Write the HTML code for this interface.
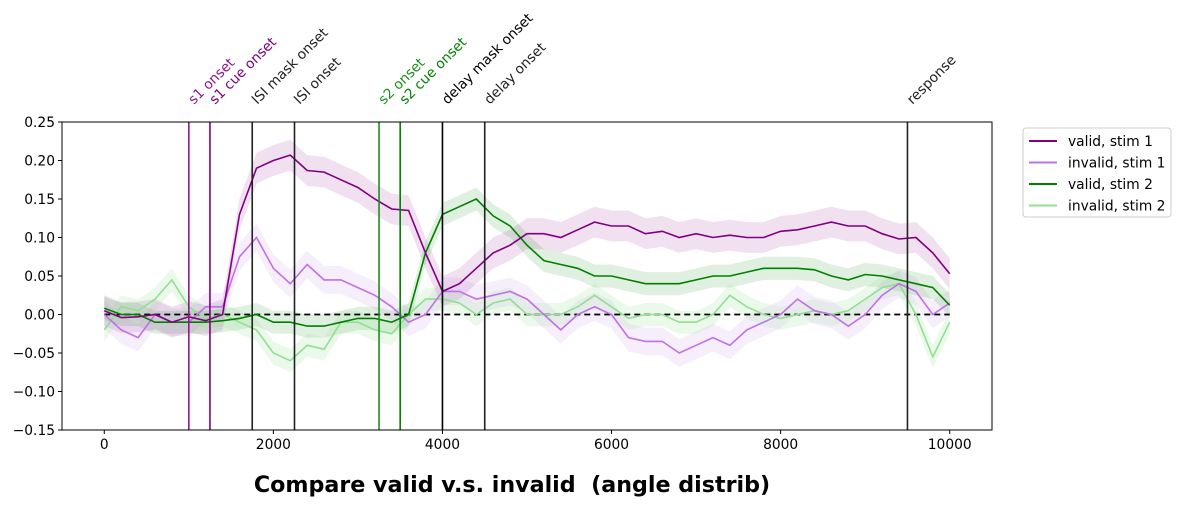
<!DOCTYPE html>
<html><head><meta charset="utf-8"><style>
html,body{margin:0;padding:0;background:#fff;}
svg{display:block;font-family:"DejaVu Sans","Liberation Sans",sans-serif;}
</style></head><body>
<svg id="chart" width="1181" height="507" viewBox="0 0 1181 507" xmlns="http://www.w3.org/2000/svg"></svg>
<script>
const xs = [0,200,400,600,800,1000,1200,1400,1600,1800,2000,2200,2400,2600,2800,3000,3200,3400,3600,3800,4000,4200,4400,4600,4800,5000,5200,5400,5600,5800,6000,6200,6400,6600,6800,7000,7200,7400,7600,7800,8000,8200,8400,8600,8800,9000,9200,9400,9600,9800,10000];
const validStim1 = [0.005,-0.004,-0.003,0.0,-0.01,-0.003,-0.008,0.0,0.13,0.19,0.2,0.207,0.187,0.185,0.175,0.165,0.15,0.137,0.135,0.08,0.03,0.04,0.06,0.08,0.09,0.105,0.105,0.1,0.11,0.12,0.115,0.115,0.105,0.108,0.1,0.105,0.1,0.103,0.1,0.1,0.108,0.11,0.115,0.12,0.115,0.115,0.105,0.098,0.1,0.08,0.053];
const invalidStim1 = [0,-0.02,-0.03,0.0,-0.01,-0.01,0.01,0.01,0.075,0.1,0.06,0.04,0.065,0.045,0.045,0.035,0.025,0.01,-0.01,0.0,0.03,0.03,0.02,0.025,0.03,0.02,0.0,-0.02,0.0,0.01,0.0,-0.03,-0.035,-0.035,-0.05,-0.04,-0.03,-0.04,-0.02,-0.01,0.0,0.02,0.005,0.0,-0.015,0.0,0.025,0.04,0.03,0.0,0.015];
const validStim2 = [0.008,0.0,0.0,-0.01,-0.01,-0.01,-0.01,-0.008,-0.005,0.0,-0.01,-0.01,-0.015,-0.015,-0.01,-0.005,-0.005,-0.01,0.0,0.08,0.13,0.14,0.15,0.128,0.115,0.09,0.07,0.065,0.06,0.05,0.05,0.045,0.04,0.04,0.04,0.045,0.05,0.05,0.055,0.06,0.06,0.06,0.058,0.05,0.045,0.052,0.05,0.045,0.04,0.035,0.012];
const invalidStim2 = [-0.02,0.01,0.005,0.02,0.045,0.01,-0.005,0.0,-0.01,-0.02,-0.05,-0.06,-0.04,-0.045,-0.01,-0.01,-0.02,-0.025,0.0,0.02,0.02,0.015,0.0,0.015,0.02,0.0,0.0,0.0,0.01,0.025,0.01,-0.005,0.0,0.0,-0.01,-0.01,0.0,0.025,0.01,0.0,-0.005,0.0,0.005,0.0,0.005,0.02,0.035,0.04,0.0,-0.055,-0.01];
const semValues = [0.02,0.018,0.015,0.015];
const seriesNames = ["valid, stim 1","invalid, stim 1","valid, stim 2","invalid, stim 2"];
const seriesColors = ["#800080","#c070e8","#008000","#90e090"];
const eventTimes = [1000,1250,1750,2250,3250,3500,4000,4500,9500];
const eventLabels = ["s1 onset","s1 cue onset","ISI mask onset","ISI onset","s2 onset","s2 cue onset","delay mask onset","delay onset","response"];
const eventColors = ["#901890","#800080","#222","#222","#1a901a","#008000","#000","#222","#222"];
const xTicks = [0,2000,4000,6000,8000,10000];
const yTicks = [0.25,0.20,0.15,0.10,0.05,0.00,-0.05,-0.10,-0.15];

const L=62,R=992,T=122,B=430;
const xMin=-500,xMax=10500,yMin=-0.15,yMax=0.25;
const X=v=>L+(v-xMin)/(xMax-xMin)*(R-L);
const Y=v=>B-(v-yMin)/(yMax-yMin)*(B-T);
const svg=document.getElementById('chart');
const NS="http://www.w3.org/2000/svg";
function mk(tag,attrs,parent){const e=document.createElementNS(NS,tag);for(const k in attrs)e.setAttribute(k,attrs[k]);(parent||svg).appendChild(e);return e;}

const clip=mk('clipPath',{id:'pc'});mk('rect',{x:L,y:T,width:R-L,height:B-T},clip);
const plot=mk('g',{'clip-path':'url(#pc)'});



const allSeries=[validStim1,invalidStim1,validStim2,invalidStim2];
allSeries.forEach((ys,i)=>{
  const s=semValues[i];
  let d='M'+xs.map((x,j)=>X(x).toFixed(1)+','+Y(ys[j]+s).toFixed(1)).join('L');
  for(let j=xs.length-1;j>=0;j--)d+='L'+X(xs[j]).toFixed(1)+','+Y(ys[j]-s).toFixed(1);
  const b=mk('path',{d:d+'Z',fill:seriesColors[i],'fill-opacity':i==3?0.18:0.12,stroke:'none'},plot);
  
  
});
const zl=mk('line',{x1:X(0),x2:X(10000),y1:Y(0),y2:Y(0),stroke:'#000','stroke-width':1.8,'stroke-dasharray':'6,4'},plot);


[3,1,2,0].forEach(i=>{
  const ys=allSeries[i];
  const p=mk('path',{d:'M'+xs.map((x,j)=>X(x).toFixed(1)+','+Y(ys[j]).toFixed(1)).join('L'),fill:'none',stroke:seriesColors[i],'stroke-width':1.6},plot);
  
  
});
eventTimes.forEach((t,i)=>{
  const l=mk('line',{x1:X(t),x2:X(t),y1:T,y2:B,stroke:eventColors[i],'stroke-width':1.6});
  
  
  const tx=mk('text',{x:0,y:0,transform:`translate(${X(t)+5},${T-17}) rotate(-45)`,'font-size':13.8,fill:eventColors[i]});
  tx.textContent=eventLabels[i];
  
  
});
const fr=mk('rect',{x:L,y:T,width:R-L,height:B-T,fill:'none',stroke:'#000','stroke-width':1});


xTicks.forEach(v=>{
  mk('line',{x1:X(v),x2:X(v),y1:B,y2:B+4,stroke:'#000'});
  const t=mk('text',{x:X(v),y:B+19,'font-size':13.8,'text-anchor':'middle'});
  t.textContent=String(v);
  
  
});
yTicks.forEach(v=>{
  mk('line',{x1:L-4,x2:L,y1:Y(v),y2:Y(v),stroke:'#000'});
  const t=mk('text',{x:L-7,y:Y(v)+5,'font-size':13.8,'text-anchor':'end'});
  t.textContent=v.toFixed(2).replace('-','\u2212');
  
  
});
const title=mk('text',{x:512,y:492,'font-size':22.2,'font-weight':'bold','text-anchor':'middle'});
title.setAttribute('xml:space','preserve');
title.style.whiteSpace='pre';
title.textContent='Compare valid v.s. invalid  (angle distrib)';


const lg=mk('g',{});


mk('rect',{x:1023,y:128,width:148,height:89,rx:3,fill:'#fff',stroke:'#ccc'},lg);
seriesNames.forEach((n,i)=>{
  const y=141+i*21.5;
  mk('line',{x1:1029,x2:1057,y1:y,y2:y,stroke:seriesColors[i],'stroke-width':2},lg);
  const t=mk('text',{x:1068,y:y+5,'font-size':13.8},lg);
  t.textContent=n;
  
  
});
</script>
</body></html>
